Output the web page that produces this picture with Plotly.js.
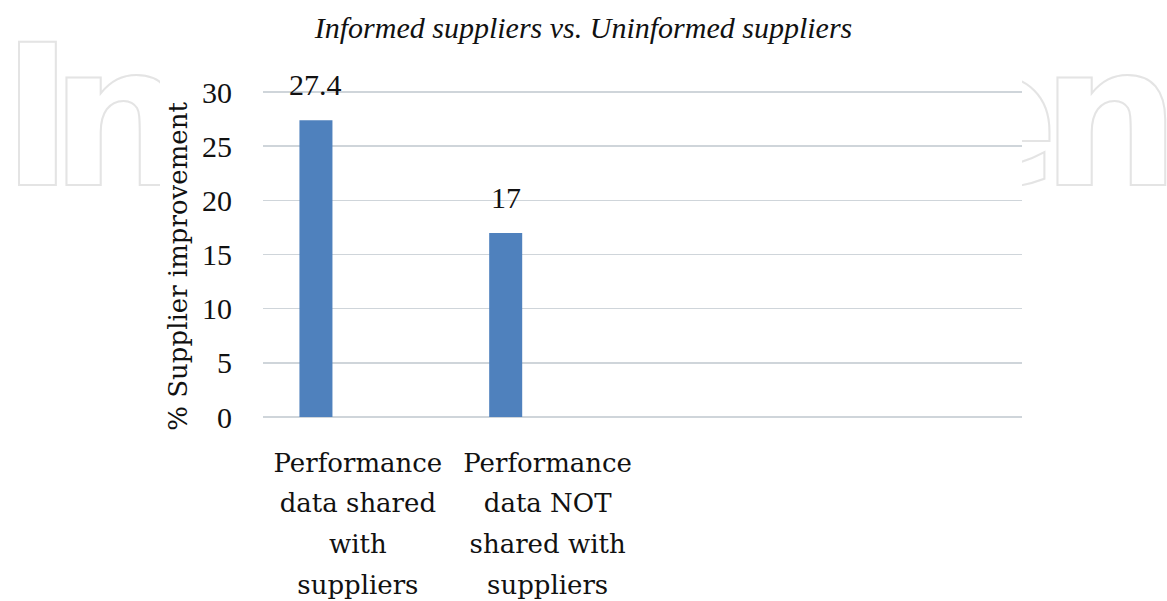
<!DOCTYPE html>
<html>
<head>
<meta charset="utf-8">
<script src="https://cdn.plot.ly/plotly-3.0.1.min.js"></script>
<style>
  html, body { margin: 0; padding: 0; background: #ffffff; }
  #wrap { position: relative; width: 1167px; height: 601px; overflow: hidden; }
  #wm { position: absolute; left: 0; top: 0; z-index: 0; }
  #chart { position: absolute; left: 0; top: 0; width: 1167px; height: 601px; z-index: 1; }
</style>
</head>
<body>
<div id="wrap">
  <svg id="wm" width="1167" height="601" xmlns="http://www.w3.org/2000/svg">
    <g font-family="DejaVu Sans" font-weight="bold" font-size="196" fill="#ffffff" stroke="#e4e4e4" stroke-width="2">
      <text x="1" y="185" letter-spacing="-24">In</text>
      <text x="926" y="185" letter-spacing="-18">en</text>
    </g>
  </svg>
  <div id="chart"></div>
</div>
<script>
// ---- data ----
const chartTitle = 'Informed suppliers vs. Uninformed suppliers';
const yTitle = '% Supplier improvement';
const categories = [
  'Performance<br>data shared<br>with<br>suppliers',
  'Performance<br>data NOT<br>shared with<br>suppliers'
];
const values = [27.4, 17];
const yTicks = [0, 5, 10, 15, 20, 25, 30];

// ---- styling ----
const textSerif = 'DejaVu Serif, Liberation Serif, serif';
const numSerif = 'Liberation Serif, DejaVu Serif, serif';
const barColor = '#4f81bd';
const gridColor = '#cfd5da';
const barWidth = 0.174;
const barOffset = -0.308;
const labelCenter = barOffset + barWidth / 2;

// tick text: same lines, each drawn at 26px while line spacing follows the 31.5px base font
const tickText = categories.map(c =>
  c.split('<br>').map(line => '<span style="font-size:26px">' + line + '</span>').join('<br>')
);

const trace = {
  type: 'bar',
  x: categories,
  y: values,
  width: values.map(() => barWidth),
  offset: values.map(() => barOffset),
  marker: { color: barColor },
  hoverinfo: 'none',
  showlegend: false
};

const valueLabels = values.map((v, i) => ({
  x: i + labelCenter,
  y: v,
  xref: 'x',
  yref: 'y',
  text: String(v),
  showarrow: false,
  yanchor: 'bottom',
  xanchor: 'center',
  yshift: 17,
  font: { family: numSerif, size: 30, color: '#111111' }
}));

const layout = {
  width: 1167,
  height: 601,
  margin: { l: 263, r: 145, t: 91, b: 184 },
  paper_bgcolor: 'rgba(0,0,0,0)',
  plot_bgcolor: '#ffffff',
  title: {
    text: '<i>' + chartTitle + '</i>',
    x: 0.5,
    xref: 'container',
    y: 1 - 27 / 601,
    yref: 'container',
    yanchor: 'middle',
    font: { family: 'Liberation Serif, serif', size: 30, color: '#111111' }
  },
  xaxis: {
    type: 'category',
    categoryorder: 'array',
    categoryarray: categories,
    tickvals: categories,
    ticktext: tickText,
    range: [-0.5, 3.5],
    showgrid: false,
    zeroline: false,
    showline: false,
    ticks: '',
    ticklabelstandoff: 22,
    tickfont: { family: textSerif, size: 31.5, color: '#111111' },
    fixedrange: true
  },
  yaxis: {
    range: [0, 30.1],
    tickvals: yTicks,
    ticktext: yTicks.map(String),
    showgrid: true,
    gridcolor: gridColor,
    gridwidth: 1.5,
    zeroline: true,
    zerolinecolor: gridColor,
    zerolinewidth: 1.5,
    showline: false,
    ticks: '',
    ticklabelstandoff: 30,
    tickfont: { family: numSerif, size: 30, color: '#111111' },
    title: {
      text: yTitle + '&nbsp;&nbsp;&nbsp;',
      standoff: 6,
      font: { family: textSerif, size: 26, color: '#111111' }
    },
    automargin: false,
    fixedrange: true
  },
  shapes: [{
    type: 'rect',
    xref: 'paper', yref: 'paper',
    x0: (160 - 263) / 759, x1: 1,
    y0: (417 - 601) / 326, y1: 417 / 326,
    fillcolor: '#ffffff',
    line: { width: 0 },
    layer: 'below'
  }],
  annotations: valueLabels
};

Plotly.newPlot('chart', [trace], layout, { displayModeBar: false, staticPlot: true });
</script>
</body>
</html>
